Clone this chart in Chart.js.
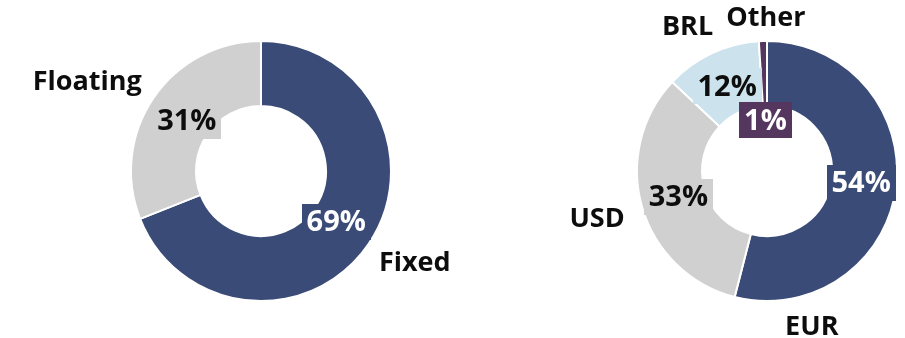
<!DOCTYPE html>
<html>
<head>
<meta charset="utf-8">
<script src="https://cdn.jsdelivr.net/npm/chart.js@4.4.1/dist/chart.umd.min.js"></script>
<style>
  html, body { margin: 0; padding: 0; background: #ffffff; }
  #wrap { position: relative; width: 905px; height: 338px; }
  #wrap canvas { position: absolute; left: 0; top: 0; }
</style>
</head>
<body>
<div id="wrap">
  <canvas id="rateChart" width="905" height="338"></canvas>
  <canvas id="currencyChart" width="905" height="338"></canvas>
</div>
<script>
// Interest-rate mix of the debt (%)
const rateCategories = ['Fixed', 'Floating'];
const rateShares = [69, 31];

// Currency mix of the debt (%)
const currencyCategories = ['EUR', 'USD', 'BRL', 'Other'];
const currencyShares = [54, 33, 12, 1];

const NAVY = '#394b76';
const GREY = '#d0d0d0';
const LIGHT_BLUE = '#cce2ec';
const PURPLE = '#55365e';
const NAME_FONT = 'bold 27px "Open Sans", sans-serif';
const TAG_FONT = 'bold 29px "Open Sans", sans-serif';

// Draws the percentage tag on each slice and the category name around the ring.
// pct: distance of the tag from the centre, as a share of the outer radius
// angle/dist: where the category name sits (degrees clockwise from 12 o'clock, share of outer radius)
const sliceLabels = {
  id: 'sliceLabels',
  afterDatasetsDraw(chart, args, opts) {
    const ctx = chart.ctx;
    const ds = chart.data.datasets[0];
    const meta = chart.getDatasetMeta(0);
    const total = ds.data.reduce((a, b) => a + b, 0);
    ctx.save();
    ctx.textAlign = 'center';
    ctx.textBaseline = 'middle';
    ctx.font = TAG_FONT;
    meta.data.forEach((arc, i) => {
      const p = arc.getProps(['x', 'y', 'startAngle', 'endAngle', 'outerRadius'], true);
      const lay = opts.layout[i];
      const mid = (p.startAngle + p.endAngle) / 2;
      const r = p.outerRadius * lay.pct;
      const px = p.x + Math.cos(mid) * r;
      const py = p.y + Math.sin(mid) * r;
      const txt = Math.round(ds.data[i] / total * 100) + '%';
      const w = ctx.measureText(txt).width;
      ctx.fillStyle = ds.backgroundColor[i];
      ctx.fillRect(Math.round(px - w / 2 - 5), Math.round(py - 18), Math.round(w + 10), 36);
      ctx.fillStyle = opts.tagText[i];
      ctx.fillText(txt, px, py + 1);
    });
    ctx.font = NAME_FONT;
    meta.data.forEach((arc, i) => {
      const p = arc.getProps(['x', 'y', 'outerRadius'], true);
      const lay = opts.layout[i];
      const a = lay.angle * Math.PI / 180 - Math.PI / 2;
      const r = p.outerRadius * lay.dist;
      ctx.fillStyle = '#0d0d0d';
      ctx.fillText(chart.data.labels[i], p.x + Math.cos(a) * r, p.y + Math.sin(a) * r);
    });
    ctx.restore();
  }
};

function ring(id, labels, values, colors, tagText, layout, padding) {
  return new Chart(document.getElementById(id), {
    type: 'doughnut',
    data: {
      labels: labels,
      datasets: [{
        data: values,
        backgroundColor: colors,
        borderColor: '#ffffff',
        borderWidth: 2
      }]
    },
    options: {
      responsive: false,
      animation: false,
      devicePixelRatio: 1,
      radius: 130,
      cutout: '50%',
      layout: { padding: padding },
      events: [],
      plugins: {
        legend: { display: false },
        tooltip: { enabled: false },
        sliceLabels: { layout: layout, tagText: tagText }
      }
    },
    plugins: [sliceLabels]
  });
}

ring('rateChart', rateCategories, rateShares,
  [NAVY, GREY],
  ['#ffffff', '#0d0d0d'],
  [
    { pct: 0.70, angle: 121, dist: 1.38 },
    { pct: 0.69, angle: 297, dist: 1.50 }
  ],
  { left: 0, right: 383, top: 4, bottom: 0 });

ring('currencyChart', currencyCategories, currencyShares,
  [NAVY, GREY, LIGHT_BLUE, PURPLE],
  ['#ffffff', '#0d0d0d', '#0d0d0d', '#ffffff'],
  [
    { pct: 0.73, angle: 164, dist: 1.25 },
    { pct: 0.71, angle: 254, dist: 1.36 },
    { pct: 0.72, angle: 331, dist: 1.26 },
    { pct: 0.39, angle: 359.6, dist: 1.175 }
  ],
  { left: 629, right: 0, top: 4, bottom: 0 });
</script>
</body>
</html>
